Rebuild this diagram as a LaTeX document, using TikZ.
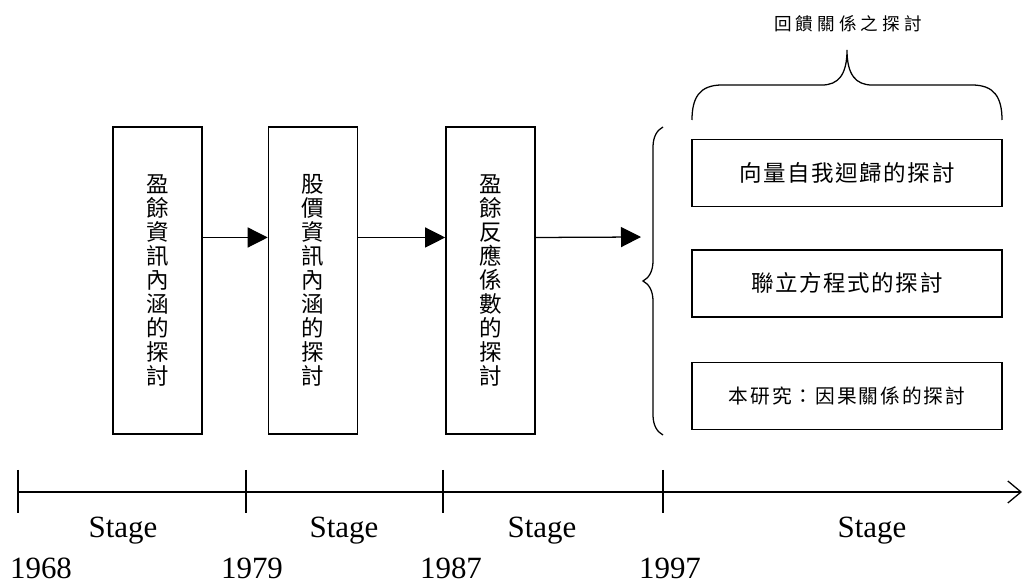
\documentclass[tikz,border=0pt]{standalone}
\usepackage{fontspec}
\setmainfont{Liberation Serif}
\newfontfamily\cjk{Noto Sans CJK TC}
\newfontfamily\cjkwide[LetterSpace=7]{Noto Sans CJK TC}
\newfontfamily\cjksmall[LetterSpace=10]{Noto Sans CJK TC}
\newfontfamily\cjktitle[LetterSpace=23]{Noto Sans CJK TC}
\usetikzlibrary{arrows.meta, positioning, decorations.pathreplacing}

\begin{document}
\begin{tikzpicture}[
  x=0.025cm, y=-0.025cm,
  every node/.style={inner sep=0pt, align=center},
  stagebox/.style={draw, line width=1pt, minimum width=2.225cm, minimum height=7.675cm,
    font=\cjk\fontsize{16}{17.07}\selectfont},
  studybox/.style={draw, line width=1pt, minimum width=7.75cm, minimum height=1.675cm,
    font=\cjkwide\fontsize{16}{19}\selectfont},
  timelabel/.style={font=\fontsize{22}{26}\selectfont, anchor=base},
  >={Triangle[length=0.5cm, width=0.5cm]}
]
\useasboundingbox (0,0) rectangle (1023,583);

% Stages of the literature
\node[stagebox] (earn) at (157.5,280.5) {盈\\餘\\資\\訊\\內\\涵\\的\\探\\討};
\node[stagebox, right=1.625cm of earn] (price) {股\\價\\資\\訊\\內\\涵\\的\\探\\討};
\node[stagebox, right=2.175cm of price] (erc) {盈\\餘\\反\\應\\係\\數\\的\\探\\討};

% Recent studies
\node[studybox] (var) at (847,173) {向量自我迴歸的探討};
\node[studybox, below=1.05cm of var] (sem) {聯立方程式的探討};
\node[studybox, below=1.1cm of sem, font=\cjksmall\fontsize{14}{17}\selectfont] (causal) {本研究：因果關係的探討};

% Braces
\draw[line width=0.9pt, decorate, decoration={brace, amplitude=0.5cm}] (663,435) -- (663,127);
\coordinate (split) at (641,237);
\draw[line width=0.9pt] (692,120) .. controls (692,97) and (700,85) .. (722,85) -- (822,85)
  .. controls (838,85) and (847,75) .. (847,50) .. controls (847,75) and (856,85) .. (872,85)
  -- (972,85) .. controls (994,85) and (1002,97) .. (1002,120);
\node[font=\cjktitle\fontsize{12.5}{15}\selectfont] (feedback) at (848,24) {回饋關係之探討};

% Flow between stages
\foreach \a/\b in {earn/price, price/erc}
  \draw[->, line width=0.9pt] ([yshift=1.075cm]\a.east) -- ([yshift=1.075cm]\b.west);
\draw[->, line width=0.9pt] ([yshift=1.075cm]erc.east) -- (split);

% Time line
\coordinate (t1968) at (18,492);
\coordinate (t1979) at (246,492);
\coordinate (t1987) at (443,492);
\coordinate (t1997) at (663,492);
\coordinate (tend) at (1022,492);
\draw[line width=0.9pt, -{Straight Barb[length=0.33cm, width=0.55cm]}] (t1968) -- (tend);
\foreach \t in {t1968, t1979, t1987, t1997}
  \draw[line width=0.9pt] ([yshift=0.55cm]\t) -- ([yshift=-0.525cm]\t);

% Labels
\foreach \x/\yr in {41/1968, 252/1979, 451/1987, 670/1997}
  \node[timelabel] (year\yr) at (\x,578) {\yr};
\foreach \x [count=\i] in {123, 344, 542, 872}
  \node[timelabel] (stage\i) at (\x,537) {Stage};
\end{tikzpicture}
\end{document}
